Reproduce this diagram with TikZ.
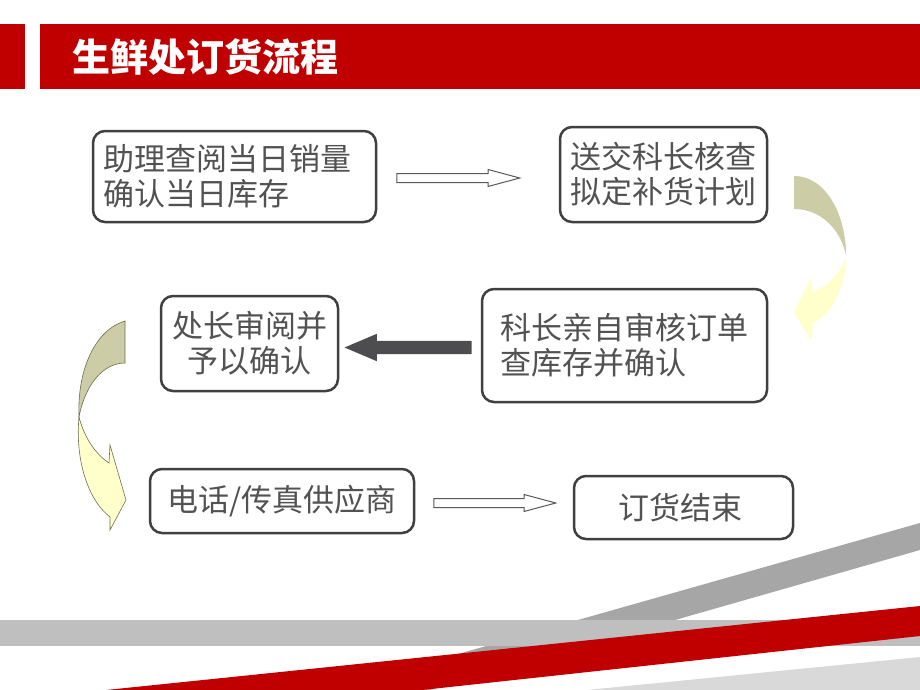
\documentclass[tikz,border=0pt]{standalone}
\usepackage{fontspec}
\newfontfamily\cjk{Noto Sans CJK SC}
\usetikzlibrary{shapes.arrows}

\definecolor{titlered}{RGB}{192,0,0}
\definecolor{boxgray}{RGB}{64,64,64}
\definecolor{txtgray}{RGB}{82,82,82}
\definecolor{arrowgray}{RGB}{77,77,79}
\definecolor{outlinegray}{RGB}{89,89,89}
\definecolor{backolive}{RGB}{204,204,166}
\definecolor{frontyellow}{RGB}{255,255,204}
\definecolor{curveedge}{RGB}{110,110,80}
\definecolor{bandgray}{RGB}{191,191,191}
\definecolor{diaggray}{RGB}{166,166,166}
\definecolor{lightband}{RGB}{217,217,217}

\begin{document}
\begin{tikzpicture}[x=1pt,y=-1pt,
  stepbox/.style={draw=boxgray, line width=2.5pt, rounded corners=12pt, fill=white,
    text=txtgray, align=left, inner sep=0pt, font=\cjk\fontsize{31}{35}\selectfont},
  hollowarrow/.style={single arrow, draw=outlinegray, line width=1pt, fill=white,
    inner sep=4pt, single arrow head extend=4pt, single arrow tip angle=30, anchor=tail},
  solidarrow/.style={single arrow, fill=arrowgray, inner sep=6.5pt,
    single arrow head extend=7pt, single arrow tip angle=46, anchor=tail,
    shape border rotate=180}]
\useasboundingbox (0,0) rectangle (920,690);
\fill[white] (0,0) rectangle (920,690);

% bottom stripes
\fill[diaggray] (920,523) -- (920,550) -- (430,690) -- (331,690) -- cycle;
\fill[bandgray] (0,620) rectangle (920,646);
\fill[titlered] (920,606) -- (920,636) -- (422,690) -- (106,690) -- cycle;
\fill[lightband] (920,657) -- (920,690) -- (587,690) -- cycle;

% title bar
\fill[titlered] (0,24) rectangle (25,89);
\fill[titlered] (40,24) rectangle (920,89);
\node[anchor=west, inner sep=0pt, text=white, font=\cjk\bfseries\fontsize{38}{38}\selectfont]
  (title) at (72,57) {生鲜处订货流程};

% steps
\node[stepbox, minimum width=283, minimum height=91, text width=262] (check) at (234.5,176.5)
  {助理查阅当日销量\\确认当日库存};
\node[stepbox, minimum width=207, minimum height=95] (plan) at (663.5,174.5)
  {送交科长核查\\拟定补货计划};
\node[stepbox, minimum width=285, minimum height=113] (review) at (624.5,345.5)
  {科长亲自审核订单\\查库存并确认};
\node[stepbox, minimum width=177, minimum height=95] (approve) at (249.5,343.5)
  {处长审阅并\\\hspace{0.5em}予以确认};
\node[stepbox, minimum width=264, minimum height=64] (supplier) at (282,501)
  {电话/传真供应商};
\node[stepbox, minimum width=219, minimum height=63, text width=131] (done) at (683.5,507.5)
  {订货结束};

% straight arrows
\node[hollowarrow, minimum height=123] (a1) at ([xshift=19pt,yshift=-1.5pt]check.east) {};
\node[solidarrow, minimum height=127] (a2) at ([xshift=-9pt,yshift=-2pt]review.west) {};
\node[hollowarrow, minimum height=122] (a3) at ([xshift=18pt,yshift=-2pt]supplier.east) {};

% curved arrow right
\fill[backolive] (794,176) .. controls (826,176) and (846,215) .. (846,255)
  .. controls (840,228) and (820,209) .. (794,209) -- cycle;
\fill[frontyellow] (846,255) .. controls (846,290) and (830,315) .. (813,323)
  -- (811,340) -- (794,312) -- (811,277) -- (813,292)
  .. controls (830,285) and (843,270) .. (846,255) -- cycle;

% curved arrow left
\filldraw[fill=backolive, draw=curveedge, line width=0.6pt]
  (125,321) .. controls (95,330) and (77,370) .. (79,417)
  .. controls (85,385) and (103,363) .. (125,363) -- cycle;
\filldraw[fill=frontyellow, draw=curveedge, line width=0.6pt]
  (79,417) .. controls (85,440) and (97,455) .. (109,463)
  -- (110,445) -- (126,500) -- (110,530) -- (110,517)
  .. controls (88,500) and (75,460) .. (79,417) -- cycle;
\end{tikzpicture}
\end{document}
